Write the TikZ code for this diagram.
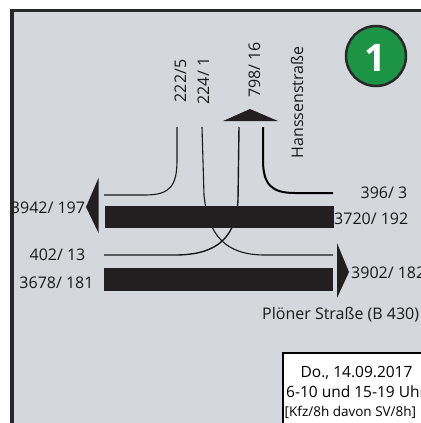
\documentclass[tikz,border=0pt]{standalone}
\usepackage{fontspec}
\setmainfont{Open Sans}
\definecolor{bg}{RGB}{212,215,220}
\definecolor{frame}{RGB}{40,40,40}
\definecolor{bar}{RGB}{35,31,32}
\definecolor{ink}{RGB}{25,25,25}
\definecolor{grn}{RGB}{28,148,68}
\begin{document}
\begin{tikzpicture}[x=1bp,y=-1bp,
  lbl/.style={font=\fontsize{16bp}{19bp}\selectfont, text=ink, inner sep=0pt, anchor=base},
  rlbl/.style={lbl, rotate=90},
  boxtxt/.style={font=\fontsize{15.5bp}{18bp}\selectfont, text=black, inner sep=0pt, anchor=base west},
  flow/.style={draw=ink, line width=1.1bp},
  barfill/.style={fill=bar, draw=none},
]
\useasboundingbox (0,0) rectangle (421,423);
\clip (0,0) rectangle (421,423);
\fill[white] (0,0) rectangle (421,423);
\draw[fill=bg, draw=frame, line width=3.5bp] (12,10.5) rectangle (460,460);

% coordinates of flow ends
\coordinate (a1) at (177,127);
\coordinate (a2) at (104,195);
\coordinate (b1) at (202,127);
\coordinate (b2) at (333,255);
\coordinate (c1) at (239,127);
\coordinate (c2) at (104,255);
\coordinate (d1) at (263,127);
\coordinate (d2) at (333,193);

% flows
\draw[flow] (a1) -- (177,160) .. controls (177,186) and (170,195) .. (145,195) -- (a2);
\draw[flow] (b1) -- (204,195) .. controls (208,235) and (225,255) .. (265,255) -- (b2);
\draw[flow, line width=1.4bp] (c1) -- (238,200) .. controls (236,235) and (220,255) .. (175,255) -- (c2);
\draw[flow, draw=black, line width=2bp] (d1) -- (263,160) .. controls (263,185) and (272,193) .. (295,193) -- (d2);

% up arrow head
\fill[bar] (223,121) -- (250,109) -- (278,121) -- cycle;

% bars and arrow heads
\fill[barfill] (105,206) rectangle (334,228);
\fill[bar] (98.5,178) -- (86,207) -- (98.5,233) -- cycle;
\fill[barfill] (104,268) rectangle (333,290.5);
\fill[bar] (337,243) -- (349,272) -- (337,298) -- cycle;

% labels
\node[rlbl] (l222) at (186,81) {222/5};
\node[rlbl] (l224) at (209,81) {224/ 1};
\node[rlbl] (l798) at (260,70) {798/ 16};
\node[rlbl] (lhan) at (303,102.5) {Hanssenstraße};
\node[lbl] (l3942) at (48,213.5) {3942/ 197};
\node[lbl, anchor=base west] (l3720) at (334,224) {3720/ 192};
\node[lbl] (l396) at (384,198) {396/ 3};
\node[lbl] (l402) at (57.5,260) {402/ 13};
\node[lbl] (l3678) at (56.5,288) {3678/ 181};
\node[lbl, anchor=base west] (l3902) at (351,278) {3902/ 182};
\node[lbl, anchor=base west] (lplo) at (262,319) {Plöner Straße (B 430)};

% badge
\node[circle, fill=grn, draw=frame, line width=2.5bp, minimum size=60bp, inner sep=0pt] (badge) at (376,56) {};
\node[font=\fontsize{38bp}{40bp}\selectfont\bfseries, text=white, inner sep=0pt] (badgetxt) at (375.5,58.3) {1};

% info box
\draw[fill=white, draw=black, line width=1.5bp] (283,353) rectangle (470,470);
\node[boxtxt] (date) at (300.5,377) {Do., 14.09.2017};
\node[boxtxt] (time) at (286,397) {6-10 und 15-19 Uhr};
\node[boxtxt, font=\fontsize{13.5bp}{16bp}\selectfont] (unit) at (284.5,416) {[Kfz/8h davon SV/8h]};
\end{tikzpicture}
\end{document}
